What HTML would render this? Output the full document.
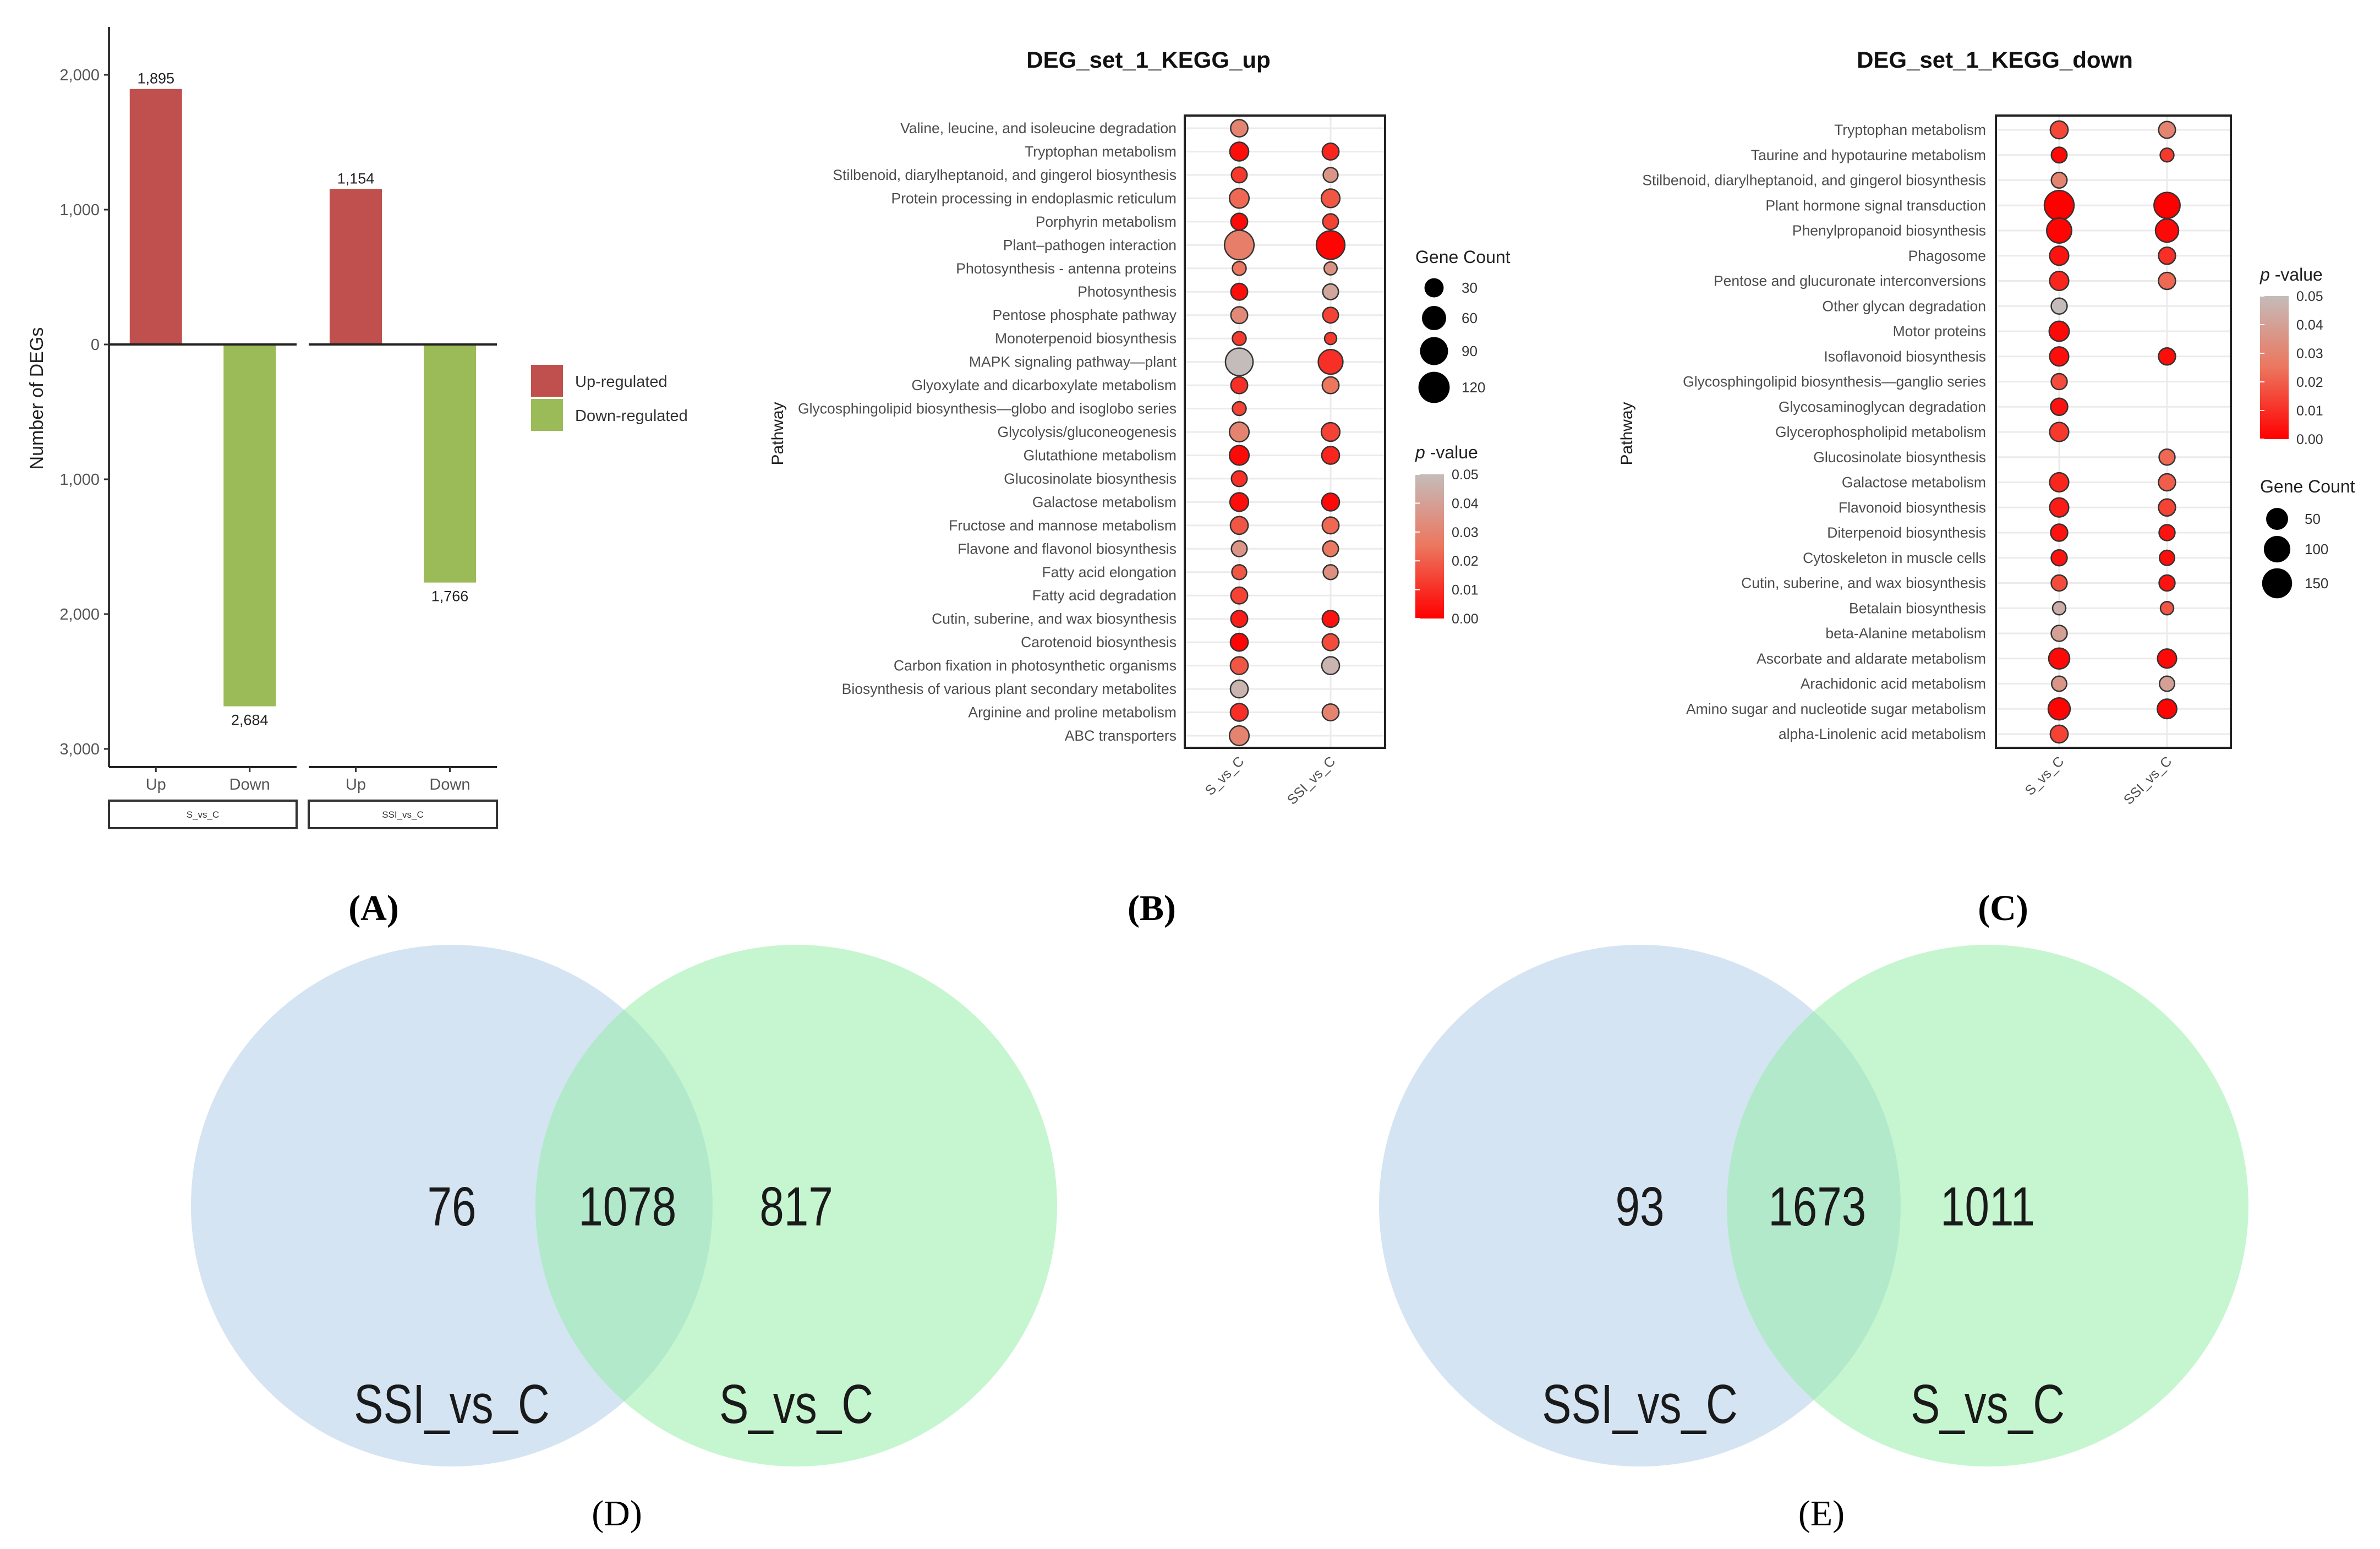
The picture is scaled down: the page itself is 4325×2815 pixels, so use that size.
<!DOCTYPE html>
<html><head><meta charset="utf-8">
<style>
html,body{margin:0;padding:0;background:#fff;}
svg{display:block;}
text{font-family:"Liberation Sans",sans-serif;}
</style></head>
<body>
<svg id="fig" width="4325" height="2815" viewBox="0 0 4325 2815" xmlns="http://www.w3.org/2000/svg">
<rect x="0" y="0" width="4325" height="2815" fill="#fff"/>
<g id="pa"></g>
<g id="pb"></g>
<g id="pc"></g>
<g id="pd"></g>
<g id="pe"></g>
<text x="679" y="1672" text-anchor="middle" style="font-family:'Liberation Serif',serif;font-weight:bold;font-size:66px">(A)</text>
<text x="2093" y="1672" text-anchor="middle" style="font-family:'Liberation Serif',serif;font-weight:bold;font-size:66px">(B)</text>
<text x="3640" y="1672" text-anchor="middle" style="font-family:'Liberation Serif',serif;font-weight:bold;font-size:66px">(C)</text>
<text x="1121" y="2772" text-anchor="middle" style="font-family:'Liberation Serif',serif;font-size:66px">(D)</text>
<text x="3310" y="2772" text-anchor="middle" style="font-family:'Liberation Serif',serif;font-size:66px">(E)</text>
</svg>
<script>
const NS='http://www.w3.org/2000/svg';
function mk(parent,tag,attrs,txt){const e=document.createElementNS(NS,tag);for(const k in attrs)e.setAttribute(k,attrs[k]);if(txt!==undefined)e.textContent=txt;parent.appendChild(e);return e;}

/* ---------- Panel A data ---------- */
const aFacets=['S_vs_C','SSI_vs_C'];
const aCategories=['Up','Down'];
const aUp=[1895,1154];
const aDown=[2684,1766];
const aTickValues=[2000,1000,0,-1000,-2000,-3000];
const aTickLabels=['2,000','1,000','0','1,000','2,000','3,000'];
const aLegend=['Up-regulated','Down-regulated'];

/* ---------- Panel B data ---------- */
const bPathways=['Valine, leucine, and isoleucine degradation','Tryptophan metabolism','Stilbenoid, diarylheptanoid, and gingerol biosynthesis','Protein processing in endoplasmic reticulum','Porphyrin metabolism','Plant\u2013pathogen interaction','Photosynthesis - antenna proteins','Photosynthesis','Pentose phosphate pathway','Monoterpenoid biosynthesis','MAPK signaling pathway\u2014plant','Glyoxylate and dicarboxylate metabolism','Glycosphingolipid biosynthesis\u2014globo and isoglobo series','Glycolysis/gluconeogenesis','Glutathione metabolism','Glucosinolate biosynthesis','Galactose metabolism','Fructose and mannose metabolism','Flavone and flavonol biosynthesis','Fatty acid elongation','Fatty acid degradation','Cutin, suberine, and wax biosynthesis','Carotenoid biosynthesis','Carbon fixation in photosynthetic organisms','Biosynthesis of various plant secondary metabolites','Arginine and proline metabolism','ABC transporters'];
const bGroups=['S_vs_C','SSI_vs_C'];
const bCountS=[21,28,15,32,19,103,9,19,19,9,86,19,9,32,32,15,27,23,15,12,19,19,23,23,23,23,32];
const bPS=[0.03,0.003,0.012,0.022,0.002,0.028,0.025,0.003,0.032,0.012,0.05,0.01,0.014,0.03,0.002,0.01,0.003,0.018,0.036,0.018,0.014,0.006,0.001,0.018,0.047,0.01,0.03];
const bCountSSI=[null,19,12,27,15,94,7,15,15,5,63,19,null,27,23,null,23,19,15,12,null,19,19,23,null,19,null];
const bPSSI=[null,0.008,0.036,0.018,0.014,0.001,0.035,0.042,0.014,0.012,0.01,0.025,null,0.014,0.008,null,0.002,0.022,0.026,0.034,null,0.004,0.016,0.047,null,0.03,null];
const bSizeLegend=[30,60,90,120];
const pTicks=[0.05,0.04,0.03,0.02,0.01,0.00];

/* ---------- Panel C data ---------- */
const cPathways=['Tryptophan metabolism','Taurine and hypotaurine metabolism','Stilbenoid, diarylheptanoid, and gingerol biosynthesis','Plant hormone signal transduction','Phenylpropanoid biosynthesis','Phagosome','Pentose and glucuronate interconversions','Other glycan degradation','Motor proteins','Isoflavonoid biosynthesis','Glycosphingolipid biosynthesis\u2014ganglio series','Glycosaminoglycan degradation','Glycerophospholipid metabolism','Glucosinolate biosynthesis','Galactose metabolism','Flavonoid biosynthesis','Diterpenoid biosynthesis','Cytoskeleton in muscle cells','Cutin, suberine, and wax biosynthesis','Betalain biosynthesis','beta-Alanine metabolism','Ascorbate and aldarate metabolism','Arachidonic acid metabolism','Amino sugar and nucleotide sugar metabolism','alpha-Linolenic acid metabolism'];
const cCountS=[19,9,9,145,81,27,27,10,34,27,10,15,27,null,27,27,15,10,10,2,10,41,7,50,19];
const cPS=[0.015,0.002,0.03,0.0,0.001,0.004,0.008,0.05,0.002,0.003,0.016,0.004,0.012,null,0.008,0.006,0.004,0.004,0.016,0.045,0.04,0.002,0.036,0.001,0.014];
const cCountSSI=[14,3,null,94,61,15,15,null,null,15,null,null,null,10,15,15,10,7,10,2,null,27,7,30,null];
const cPSSI=[0.03,0.012,null,0.0,0.002,0.01,0.022,null,null,0.003,null,null,null,0.022,0.02,0.014,0.004,0.003,0.004,0.018,null,0.002,0.04,0.001,null];
const cSizeLegend=[50,100,150];

/* ---------- Venn data ---------- */
const dValues=[76,1078,817];
const eValues=[93,1673,1011];
const vennSets=['SSI_vs_C','S_vs_C'];

/* ---------- helpers ---------- */
function pcol(p){
  const t=Math.max(0,Math.min(1,p/0.05));
  const s=[[0,[255,0,0]],[0.5,[236,118,94]],[1,[196,188,186]]];
  let a=s[0],b=s[1];if(t>0.5){a=s[1];b=s[2];}
  const u=(t-a[0])/(b[0]-a[0]);
  const c=a[1].map((v,i)=>Math.round(v+(b[1][i]-v)*u));
  return 'rgb('+c.join(',')+')';
}

/* ---------- Panel A ---------- */
(function(){
  const g=document.getElementById('pa');
  const y0=626, k=0.245;
  const yA=v=>y0-v*k;
  const facetX=[[198,539],[561,903]];
  const barW=95;
  const ax=mk(g,'line',{x1:198,y1:49,x2:198,y2:1394,stroke:'#333','stroke-width':4});
  
  aTickValues.forEach((v,i)=>{
    const y=yA(v);
    const t=mk(g,'line',{x1:189,y1:y,x2:198,y2:y,stroke:'#333','stroke-width':3});
    
    const l=mk(g,'text',{x:181,y:y+10,'text-anchor':'end','font-size':'29',fill:'#555'},aTickLabels[i]);
    
  });
  const yt=mk(g,'text',{x:0,y:0,transform:'translate(78,724) rotate(-90)','text-anchor':'middle','font-size':'34',fill:'#222'},'Number of DEGs');
  
  aFacets.forEach((f,fi)=>{
    const [x0,x1]=facetX[fi];
    const w=x1-x0;
    const cx=[x0+w*0.25,x0+w*0.75];
    const vu=aUp[fi], vd=aDown[fi];
    const bu=mk(g,'rect',{x:cx[0]-barW/2,y:yA(vu),width:barW,height:yA(0)-yA(vu),fill:'#c0504d'});
    
    const bd=mk(g,'rect',{x:cx[1]-barW/2,y:yA(0),width:barW,height:yA(-vd)-yA(0),fill:'#9bbb59'});
    
    const lu=mk(g,'text',{x:cx[0],y:yA(vu)-10,'text-anchor':'middle','font-size':'27',fill:'#222'},vu.toLocaleString('en-US'));
    
    const ld=mk(g,'text',{x:cx[1],y:yA(-vd)+34,'text-anchor':'middle','font-size':'27',fill:'#222'},vd.toLocaleString('en-US'));
    
    const zl=mk(g,'line',{x1:x0,y1:y0,x2:x1,y2:y0,stroke:'#222','stroke-width':4});
    
    const xl=mk(g,'line',{x1:x0,y1:1394,x2:x1,y2:1394,stroke:'#222','stroke-width':4});
    
    aCategories.forEach((c,ci)=>{
      const tk=mk(g,'line',{x1:cx[ci],y1:1394,x2:cx[ci],y2:1403,stroke:'#333','stroke-width':3});
      
      const tl=mk(g,'text',{x:cx[ci],y:1435,'text-anchor':'middle','font-size':'29',fill:'#555'},c);
      
    });
    const sb=mk(g,'rect',{x:x0,y:1455,width:w,height:50,fill:'#fff',stroke:'#333','stroke-width':4});
    
    const st=mk(g,'text',{x:(x0+x1)/2,y:1486,'text-anchor':'middle','font-size':'17',fill:'#333'},f);
    
  });
  const cols=['#c0504d','#9bbb59'];
  aLegend.forEach((t,i)=>{
    const r=mk(g,'rect',{x:965,y:663+i*62,width:58,height:58,fill:cols[i]});
    
    const tx=mk(g,'text',{x:1045,y:703+i*62,'font-size':'29',fill:'#333'},t);
    
  });
})();

/* ---------- Dot plots ---------- */
function dotPlot(gid,cfg){
  const g=document.getElementById(gid);
  const n=cfg.paths.length;
  const yR=i=>cfg.y0+(cfg.y1-cfg.y0)*i/(n-1);
  const colX=[cfg.cx0,cfg.cx1];
  const ti=mk(g,'text',{x:cfg.titleX,y:123,'text-anchor':'middle','font-size':'42','font-weight':'bold',fill:'#111'},cfg.title);
  
  const pb=mk(g,'rect',{x:cfg.bx0,y:210,width:cfg.bx1-cfg.bx0,height:1149,fill:'#fff'});
  
  cfg.paths.forEach((p,i)=>{
    const gl=mk(g,'line',{x1:cfg.bx0,y1:yR(i),x2:cfg.bx1,y2:yR(i),stroke:'#ebebeb','stroke-width':3});
    
    const t=mk(g,'text',{x:cfg.labX,y:yR(i)+9,'text-anchor':'end','font-size':'26.5',fill:'#4d4d4d'},p);
    
  });
  colX.forEach(x=>{
    const gl=mk(g,'line',{x1:x,y1:210,x2:x,y2:1359,stroke:'#ebebeb','stroke-width':3});
    
  });
  const series=[[cfg.cS,cfg.pS],[cfg.cSSI,cfg.pSSI]];
  series.forEach((s,si)=>{
    s[0].forEach((c,i)=>{
      if(c===null)return;
      const d=mk(g,'circle',{cx:colX[si],cy:yR(i),r:cfg.rad(c),fill:pcol(s[1][i]),stroke:'#333','stroke-width':2.5});
      
    });
  });
  const fr=mk(g,'rect',{x:cfg.bx0,y:210,width:cfg.bx1-cfg.bx0,height:1149,fill:'none',stroke:'#222','stroke-width':4});
  
  bGroups.forEach((gr,gi)=>{
    const t=mk(g,'text',{x:0,y:0,transform:'translate('+(colX[gi]+10)+',1385) rotate(-45)','text-anchor':'end','font-size':'25',fill:'#4d4d4d'},gr);
    
  });
  const pw=mk(g,'text',{x:0,y:0,transform:'translate('+cfg.pwX+',788) rotate(-90)','text-anchor':'middle','font-size':'30',fill:'#222'},'Pathway');
  
  const st=mk(g,'text',{x:cfg.lx,y:cfg.sizeTitleY,'font-size':'32',fill:'#222'},'Gene Count');
  
  cfg.sizeLeg.forEach((v,i)=>{
    const c=mk(g,'circle',{cx:cfg.lcx,cy:cfg.sizeYs[i],r:cfg.rad(v),fill:'#000'});
    
    const t=mk(g,'text',{x:cfg.lcx+50,y:cfg.sizeYs[i]+9,'font-size':'26',fill:'#333'},String(v));
    
  });
  const ct=mk(g,'text',{x:cfg.lx,y:cfg.colTitleY,'font-size':'32',fill:'#222'});
  
  mk(ct,'tspan',{'font-style':'italic'},'p');
  mk(ct,'tspan',{},' -value');
  const gid2='grad'+gid;
  const defs=mk(g,'defs',{});
  const lg=mk(defs,'linearGradient',{id:gid2,x1:0,y1:1,x2:0,y2:0});
  [0,0.25,0.5,0.75,1].forEach(t=>mk(lg,'stop',{offset:t,'stop-color':pcol(t*0.05)}));
  const by0=cfg.colBarY0, by1=cfg.colBarY1;
  const bar=mk(g,'rect',{x:cfg.lx,y:by0,width:52,height:by1-by0,fill:'url(#'+gid2+')'});
  
  pTicks.forEach(v=>{
    const y=by1-(by1-by0)*v/0.05;
    const tk=mk(g,'line',{x1:cfg.lx,y1:y,x2:cfg.lx+8,y2:y,stroke:'#fff','stroke-width':2});
    
    const t=mk(g,'text',{x:cfg.lx+66,y:y+9,'font-size':'25',fill:'#333'},v.toFixed(2));
    
  });
}
dotPlot('pb',{title:'DEG_set_1_KEGG_up',titleX:2087,paths:bPathways,y0:233,y1:1337,cx0:2252,cx1:2418,bx0:2153,bx1:2517,labX:2138,pwX:1423,
  cS:bCountS,pS:bPS,cSSI:bCountSSI,pSSI:bPSSI,rad:c=>6.5+2.0*Math.sqrt(c),
  lx:2572,lcx:2606,sizeTitleY:478,sizeLeg:bSizeLegend,sizeYs:[523,578,638,704],colTitleY:833,colBarY0:862,colBarY1:1124});
dotPlot('pc',{title:'DEG_set_1_KEGG_down',titleX:3625,paths:cPathways,y0:236,y1:1334,cx0:3742,cx1:3938,bx0:3627,bx1:4054,labX:3609,pwX:2966,
  cS:cCountS,pS:cPS,cSSI:cCountSSI,pSSI:cPSSI,rad:c=>10+1.41*Math.sqrt(c),
  lx:4107,lcx:4138,sizeTitleY:895,sizeLeg:cSizeLegend,sizeYs:[943,998,1060],colTitleY:510,colBarY0:538,colBarY1:798});

/* ---------- Venns ---------- */
function venn(gid,cx1,cx2,vals){
  const g=document.getElementById(gid);
  const cy=2191,r=474;
  const a=mk(g,'circle',{cx:cx1,cy:cy,r:r,fill:'#d4e4f3'});
  
  const b=mk(g,'circle',{cx:cx2,cy:cy,r:r,fill:'#c6f6d0'});
  
  const cp='clip'+gid;
  const defs=mk(g,'defs',{});
  const clip=mk(defs,'clipPath',{id:cp});
  mk(clip,'circle',{cx:cx1,cy:cy,r:r});
  const o=mk(g,'circle',{cx:cx2,cy:cy,r:r,fill:'#b2e9cb','clip-path':'url(#'+cp+')'});
  
  const xs=[cx1,(cx1+cx2)/2+(cx2-cx1)*0.01,cx2];
  vals.forEach((v,i)=>{
    const t=mk(g,'text',{x:xs[i],y:cy+36,'text-anchor':'middle','font-size':'100',fill:'#1a1a1a'},String(v));
    
    const L=t.getComputedTextLength();
    if(L>0){t.setAttribute('textLength',(L*0.8).toFixed(1));t.setAttribute('lengthAdjust','spacingAndGlyphs');}
  });
  [cx1,cx2].forEach((x,i)=>{
    const t=mk(g,'text',{x:x,y:2586,'text-anchor':'middle','font-size':'100',fill:'#1a1a1a'},vennSets[i]);
    
    const L=t.getComputedTextLength();
    if(L>0){t.setAttribute('textLength',(L*0.8).toFixed(1));t.setAttribute('lengthAdjust','spacingAndGlyphs');}
  });
}
venn('pd',821,1447,dValues);
venn('pe',2980,3612,eValues);
</script>
</body></html>
